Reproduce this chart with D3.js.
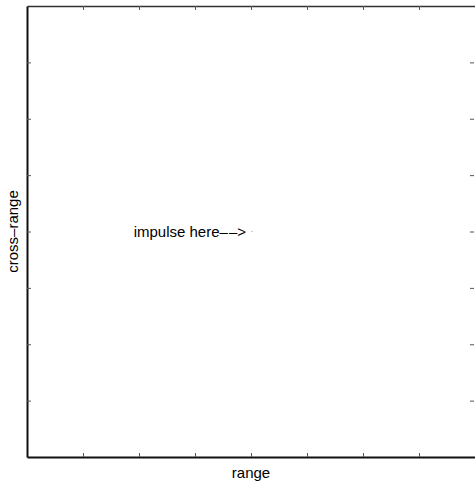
<!DOCTYPE html>
<html><head><meta charset="utf-8">
<script src="https://cdn.jsdelivr.net/npm/d3@7"></script>
<style>body{margin:0;background:#fff;}svg{display:block;}</style>
</head><body>
<script>
const xTicks = [1,2,3,4,5,6,7];
const yTicks = [1,2,3,4,5,6,7];
const xDomain = [0,8];
const yDomain = [0,8];
const impulse = [{x:4, y:4}];
const xLabel = "range";
const yLabel = "cross–range";
const annotation = "impulse here––>";

const W = 475, H = 487;
const svg = d3.select("body").append("svg").attr("width", W).attr("height", H);
const x = d3.scaleLinear().domain(xDomain).range([27, 475]);
const y = d3.scaleLinear().domain(yDomain).range([457, 6]);
const font = "'Liberation Sans', Arial, Helvetica, sans-serif";

const gb = svg.append("g").attr("transform", `translate(0,${y(0)})`)
  .call(d3.axisBottom(x).tickValues(xTicks).tickFormat("").tickSizeInner(-4).tickSizeOuter(0));
const gt = svg.append("g").attr("transform", `translate(0,${y(8)})`)
  .call(d3.axisTop(x).tickValues(xTicks).tickFormat("").tickSizeInner(-4).tickSizeOuter(0));
const gl = svg.append("g").attr("transform", `translate(${x(0)},0)`)
  .call(d3.axisLeft(y).tickValues(yTicks).tickFormat("").tickSizeInner(-4).tickSizeOuter(0));
const gr = svg.append("g").attr("transform", `translate(${x(8)-1},0)`)
  .call(d3.axisRight(y).tickValues(yTicks).tickFormat("").tickSizeInner(-4).tickSizeOuter(0));

[gb, gl].forEach(g => g.select(".domain").attr("stroke", "#111").attr("stroke-width", 2));
gt.select(".domain").attr("stroke", "#333").attr("stroke-width", 1.5);
gr.select(".domain").attr("stroke", "none");
svg.selectAll(".tick line").attr("stroke", "#555").attr("stroke-width", 1);

svg.selectAll("circle.imp").data(impulse).enter().append("circle")
  .attr("class", "imp")
  .attr("cx", d => x(d.x) + 1).attr("cy", d => y(d.y))
  .attr("r", 0.8).attr("fill", "#bbb");

const ann = svg.append("text").attr("x", x(impulse[0].x) - 5).attr("y", y(impulse[0].y) + 5)
  .attr("text-anchor", "end").attr("font-family", font).attr("font-size", 15)
  .attr("fill", "#000");
// split so the two dashes show a small gap, as in the reference
const parts = [annotation.slice(0, 13), annotation.slice(13)];
ann.append("tspan").text(parts[0]);
ann.append("tspan").attr("dx", 1).text(parts[1]);

svg.append("text").attr("x", (x(0)+x(8))/2).attr("y", 478)
  .attr("text-anchor", "middle").attr("font-family", font).attr("font-size", 15)
  .text(xLabel);
svg.append("text").attr("transform", `translate(18,${(y(0)+y(8))/2}) rotate(-90)`)
  .attr("text-anchor", "middle").attr("font-family", font).attr("font-size", 15)
  .text(yLabel);
</script>
</body></html>
